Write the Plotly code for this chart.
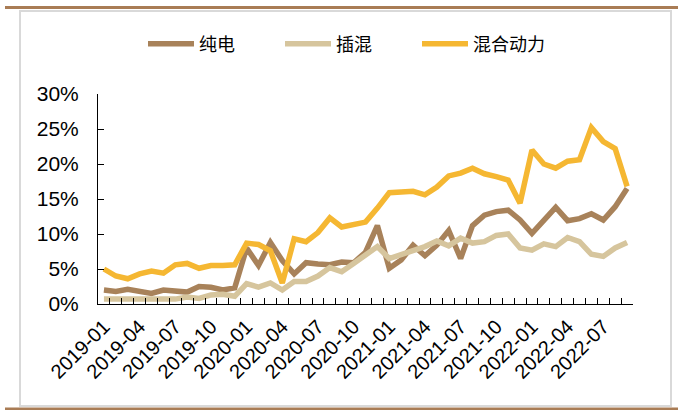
import plotly.graph_objects as go

months = [f"{y}-{m:02d}" for y in range(2019, 2023) for m in range(1, 13)][:45]

bev = [2.0, 1.8, 2.1, 1.8, 1.5, 2.0, 1.9, 1.7, 2.5, 2.4, 2.0, 2.3,
       8.0, 5.5, 8.8, 6.2, 4.3, 5.9, 5.7, 5.6, 6.0, 5.9, 7.4, 11.2,
       5.1, 6.3, 8.4, 6.9, 8.4, 10.5, 6.5, 11.2, 12.7, 13.2, 13.4, 12.0,
       10.1, 12.0, 13.8, 11.9, 12.2, 12.9, 12.0, 13.9, 16.5]
phev = [0.7, 0.7, 0.7, 0.7, 0.7, 0.6, 0.7, 1.0, 0.8, 1.3, 1.4, 1.1,
        2.9, 2.4, 3.0, 2.0, 3.2, 3.2, 4.0, 5.2, 4.6, 5.8, 7.1, 8.2,
        6.5, 7.0, 7.7, 8.2, 9.0, 8.3, 9.4, 8.7, 8.9, 9.8, 10.0, 8.0,
        7.7, 8.6, 8.2, 9.5, 8.9, 7.1, 6.8, 8.0, 8.8]
hev = [5.0, 4.0, 3.6, 4.3, 4.7, 4.4, 5.6, 5.8, 5.1, 5.5, 5.5, 5.6,
       8.7, 8.5, 7.6, 3.0, 9.3, 8.9, 10.2, 12.3, 11.0, 11.4, 11.7, 13.7,
       15.9, 16.0, 16.1, 15.6, 16.7, 18.3, 18.7, 19.4, 18.6, 18.2, 17.7, 14.4,
       22.0, 20.0, 19.4, 20.4, 20.6, 25.2, 23.2, 22.2, 16.8]

series_names = ["纯电", "插混", "混合动力"]
colors = ["#A8825A", "#D6C59D", "#F5B732"]

tick_text = [m if i % 3 == 0 else "" for i, m in enumerate(months)]

fig = go.Figure()
for name, vals, c in zip(series_names, [bev, phev, hev], colors):
    fig.add_trace(go.Scatter(x=months, y=vals, mode="lines", name=name,
                             line=dict(color=c, width=5.5)))

W, H = 678, 410
L, R, T, B = 98, 45, 94, 106
pw, ph = W - L - R, H - T - B


def px(x):
    return (x - L) / pw


def py(y):
    return (H - B - y) / ph


shapes = [
    dict(type="rect", xref="paper", yref="paper", x0=px(20), x1=px(671), y0=py(406), y1=py(11),
         line=dict(color="#D9D9D9", width=2), layer="below"),
    dict(type="line", xref="paper", yref="paper", x0=px(5), x1=px(678), y0=py(7.5), y1=py(7.5),
         line=dict(color="#A97C55", width=3)),
    dict(type="line", xref="paper", yref="paper", x0=px(5), x1=px(678), y0=py(409), y1=py(409),
         line=dict(color="#A97C55", width=3)),
]

fig.update_layout(
    width=W, height=H,
    margin=dict(l=L, r=R, t=T, b=B, autoexpand=False),
    paper_bgcolor="white", plot_bgcolor="white",
    font=dict(family="Liberation Sans, Arial", size=21, color="#000000"),
    showlegend=True,
    legend=dict(orientation="h", x=px(143), xanchor="left", y=py(44), yanchor="middle",
                font=dict(family="Noto Sans CJK SC", size=18), itemwidth=46,
                entrywidth=76, entrywidthmode="pixels",
                bgcolor="rgba(0,0,0,0)"),
    shapes=shapes,
    xaxis=dict(type="category", tickmode="array", tickvals=months, ticktext=tick_text,
               tickson="boundaries", ticks="inside", ticklen=6, tickcolor="#000",
               showline=True, linecolor="#000", linewidth=1, showgrid=False,
               tickangle=-45, tickfont=dict(size=20), range=[-0.5, len(months) - 0.5],
               automargin=False, ticklabelstandoff=2),
    yaxis=dict(range=[0, 30], dtick=5, ticksuffix="%", ticks="inside", ticklen=6,
               tickcolor="#000", showline=True, linecolor="#000", linewidth=1,
               showgrid=False, zeroline=False, tickfont=dict(size=21), automargin=False,
               ticklabelstandoff=14),
)

fig.write_html("out.html", config={"displayModeBar": False},
               post_script="document.body.style.margin='0';document.body.style.padding='0';")
